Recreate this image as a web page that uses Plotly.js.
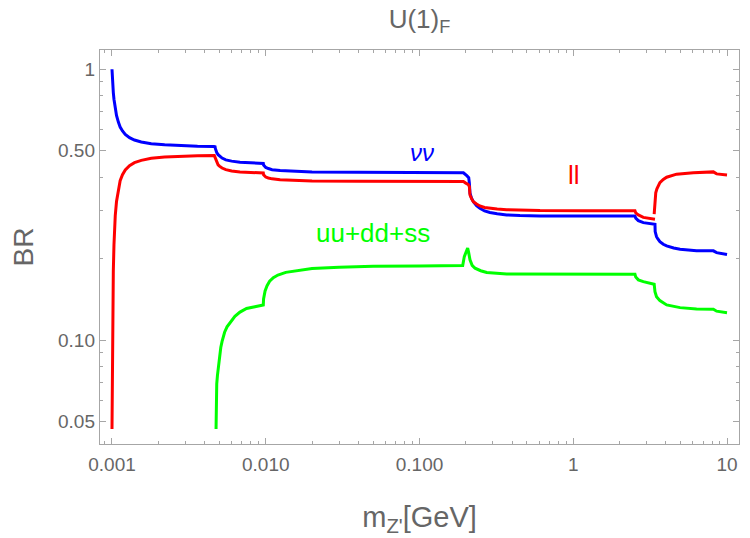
<!DOCTYPE html>
<html>
<head>
<meta charset="utf-8">
<script src="https://cdn.plot.ly/plotly-3.0.1.min.js"></script>
<style>
  html, body { margin: 0; padding: 0; background: #ffffff; }
  #chart { width: 750px; height: 538px; }
</style>
</head>
<body>
<div id="chart"></div>
<script>
// Branching ratios of the U(1)_F Z' versus its mass (GeV)

// neutrino channel
const nuMass = [0.001, 0.001002, 0.001005, 0.00101, 0.00102, 0.00103, 0.00104, 0.00105, 0.00107,
  0.0011, 0.00113, 0.00117, 0.00122, 0.0013, 0.0014, 0.00155, 0.0018, 0.0022, 0.0028, 0.0036,
  0.0046, 0.00468, 0.0047, 0.00475, 0.0048, 0.0049, 0.005, 0.0052, 0.0055, 0.006, 0.0068, 0.008,
  0.0094, 0.00964, 0.00968, 0.0098, 0.01, 0.0104, 0.011, 0.0124, 0.015, 0.02, 0.04, 0.08, 0.19,
  0.193, 0.203, 0.209, 0.211, 0.213, 0.218, 0.224, 0.235, 0.247, 0.265, 0.287, 0.32, 0.369, 0.45,
  0.608, 1.2, 2.52, 2.55, 2.65, 2.856, 3.318, 3.40, 3.41, 3.44, 3.48, 3.56, 3.66, 3.85, 4.05,
  4.5, 4.95, 6.34, 8.15, 8.56, 10];
const nuBR = [1.0, 0.96, 0.92, 0.875, 0.82, 0.775, 0.74, 0.712, 0.675,
  0.638, 0.612, 0.592, 0.575, 0.559, 0.548, 0.539, 0.531, 0.526, 0.522, 0.520,
  0.519, 0.518, 0.510, 0.500, 0.493, 0.484, 0.478, 0.470, 0.463, 0.458, 0.454, 0.451,
  0.450, 0.449, 0.443, 0.438, 0.434, 0.430, 0.426, 0.423, 0.420, 0.418, 0.4165, 0.4155, 0.415,
  0.415, 0.405, 0.398, 0.380, 0.349, 0.334, 0.3246, 0.314, 0.307, 0.300, 0.296, 0.293, 0.290, 0.2885,
  0.2875, 0.2872, 0.2875, 0.282, 0.2763, 0.2716, 0.2686, 0.268, 0.2516, 0.245, 0.2411, 0.236, 0.231, 0.226, 0.2228,
  0.219, 0.2166, 0.2141, 0.2137, 0.2104, 0.207];

// charged lepton channel (break at the tau threshold)
const llMass = [0.001, 0.001005, 0.00101, 0.00102, 0.00103, 0.00104, 0.00105, 0.00107, 0.0011,
  0.00113, 0.00117, 0.00122, 0.0013, 0.0014, 0.00155, 0.0018, 0.0022, 0.0028, 0.0036, 0.00463,
  0.0047, 0.00475, 0.0048, 0.0049, 0.005, 0.0052, 0.0055, 0.006, 0.0068, 0.008, 0.0094, 0.00964,
  0.00968, 0.0098, 0.01, 0.0104, 0.011, 0.0124, 0.015, 0.02, 0.04, 0.08, 0.193, 0.2, 0.207,
  0.211, 0.213, 0.218, 0.224, 0.235, 0.247, 0.265, 0.287, 0.32, 0.369, 0.45, 0.608, 1.2, 2.52,
  2.55, 2.65, 2.856, 3.318, 3.40,
  null, 3.36, 3.38, 3.40, 3.44, 3.5, 3.58, 3.66, 3.85, 4.05, 4.70, 6.04, 8.15, 8.56, 10];
const llBR = [0.047, 0.08, 0.125, 0.18, 0.225, 0.26, 0.288, 0.325, 0.362,
  0.388, 0.408, 0.425, 0.441, 0.452, 0.461, 0.469, 0.474, 0.477, 0.479, 0.480,
  0.470, 0.460, 0.452, 0.444, 0.439, 0.432, 0.426, 0.421, 0.418, 0.416, 0.415, 0.414,
  0.408, 0.404, 0.400, 0.397, 0.394, 0.391, 0.389, 0.387, 0.386, 0.385, 0.385, 0.380, 0.376,
  0.369, 0.3436, 0.333, 0.3246, 0.318, 0.313, 0.309, 0.307, 0.305, 0.303, 0.3015, 0.3008, 0.3005, 0.3005,
  0.295, 0.290, 0.284, 0.280, 0.2797,
  null, 0.292, 0.31, 0.33, 0.35, 0.362, 0.373, 0.3816, 0.392, 0.3995, 0.41, 0.4153, 0.418, 0.411, 0.4073];

// light quark channel
const qMass = [0.00475, 0.00476, 0.00478, 0.0048, 0.00485, 0.0049, 0.005, 0.0051, 0.0052, 0.0054,
  0.0056, 0.0059, 0.0063, 0.0068, 0.0075, 0.0085, 0.00964, 0.00968, 0.00975, 0.0099, 0.0102,
  0.0106, 0.0112, 0.012, 0.0135, 0.016, 0.02, 0.03, 0.05, 0.1, 0.191, 0.1956, 0.2, 0.2057,
  0.209, 0.213, 0.22, 0.2297, 0.25, 0.2737, 0.369, 0.608, 1.2, 2.52, 2.55, 2.65, 2.856, 3.318,
  3.36, 3.40, 3.48, 3.66, 3.85, 4.05, 4.95, 6.34, 8.15, 8.56, 10];
const qBR = [0.047, 0.058, 0.064, 0.069, 0.074, 0.078, 0.087, 0.094, 0.099, 0.107,
  0.112, 0.117, 0.1225, 0.127, 0.131, 0.133, 0.135, 0.142, 0.147, 0.152, 0.159,
  0.165, 0.170, 0.174, 0.178, 0.181, 0.184, 0.186, 0.1875, 0.188, 0.1885, 0.2035, 0.211, 0.2186,
  0.21, 0.198, 0.189, 0.1844, 0.1805, 0.1777, 0.1757, 0.1754, 0.1752, 0.1752, 0.171, 0.167, 0.1645, 0.1622,
  0.161, 0.1511, 0.1448, 0.14, 0.137, 0.135, 0.1319, 0.1305, 0.1302, 0.128, 0.1264];

const xTickVals = [0.001, 0.01, 0.1, 1, 10];
const xTickText = ['0.001', '0.010', '0.100', '1', '10'];
const yTickVals = [0.05, 0.1, 0.5, 1];
const yTickText = ['0.05', '0.10', '0.50', '1'];

const xMinor = [0.0009];
[0.001, 0.01, 0.1, 1].forEach(d => { for (let k = 2; k <= 9; k++) xMinor.push(k * d); });
const yMinor = [];
[0.01, 0.1].forEach(d => { for (let k = 2; k <= 9; k++) yMinor.push(k * d); });

const FONT = 'Liberation Sans, Arial, sans-serif';
const GRAY = '#666666';
const FRAME = '#a6a6a6';

const traces = [
  { x: nuMass, y: nuBR, mode: 'lines', line: { color: '#0000ff', width: 3 }, name: 'νν', connectgaps: false },
  { x: llMass, y: llBR, mode: 'lines', line: { color: '#ff0000', width: 3 }, name: 'll', connectgaps: false },
  { x: qMass, y: qBR, mode: 'lines', line: { color: '#00ff00', width: 3 }, name: 'uu+dd+ss' }
];

function axisBase() {
  return {
    type: 'log', showgrid: false, zeroline: false,
    showline: true, linecolor: FRAME, linewidth: 1.2, mirror: 'allticks',
    ticks: 'inside', ticklen: 6, tickwidth: 1, tickcolor: FRAME,
    tickmode: 'array', tickfont: { family: FONT, size: 19, color: GRAY }
  };
}

const xaxis = Object.assign(axisBase(), {
  range: [-3.078, 1.078], tickvals: xTickVals, ticktext: xTickText, ticklabelstandoff: 3,
  minor: { tickmode: 'array', tickvals: xMinor, ticks: 'inside', ticklen: 3, tickcolor: FRAME, showgrid: false },
  title: { text: 'm<sub>Z\'</sub>[GeV]', font: { family: FONT, size: 29, color: GRAY }, standoff: 32 }
});
const yaxis = Object.assign(axisBase(), {
  range: [-1.383, 0.071], tickvals: yTickVals, ticktext: yTickText,
  minor: { tickmode: 'array', tickvals: yMinor, ticks: 'inside', ticklen: 3, tickcolor: FRAME, showgrid: false },
  title: { text: 'BR', font: { family: FONT, size: 28, color: GRAY }, standoff: 16 }
});

const layout = {
  width: 750, height: 538,
  margin: { l: 100, r: 11, t: 50, b: 94 },
  paper_bgcolor: '#ffffff', plot_bgcolor: '#ffffff',
  showlegend: false,
  title: { text: 'U(1)<sub>F</sub>', font: { family: FONT, size: 26, color: GRAY },
           xref: 'paper', x: 0.5, xanchor: 'center', yref: 'container', y: 0.965, yanchor: 'middle' },
  xaxis: xaxis, yaxis: yaxis,
  annotations: [
    { text: '<i>νν</i>', xref: 'paper', yref: 'paper', x: 0.504, y: 0.740, showarrow: false,
      xanchor: 'center', yanchor: 'middle', font: { family: FONT, size: 24, color: '#0000ff' } },
    { text: 'll', xref: 'paper', yref: 'paper', x: 0.742, y: 0.683, showarrow: false,
      xanchor: 'center', yanchor: 'middle', font: { family: FONT, size: 26, color: '#ff0000' } },
    { text: 'uu+dd+ss', xref: 'paper', yref: 'paper', x: 0.428, y: 0.5355, showarrow: false,
      xanchor: 'center', yanchor: 'middle', font: { family: FONT, size: 26, color: '#00ff00' } }
  ]
};

Plotly.newPlot('chart', traces, layout, { staticPlot: true, displayModeBar: false });
</script>
</body>
</html>
